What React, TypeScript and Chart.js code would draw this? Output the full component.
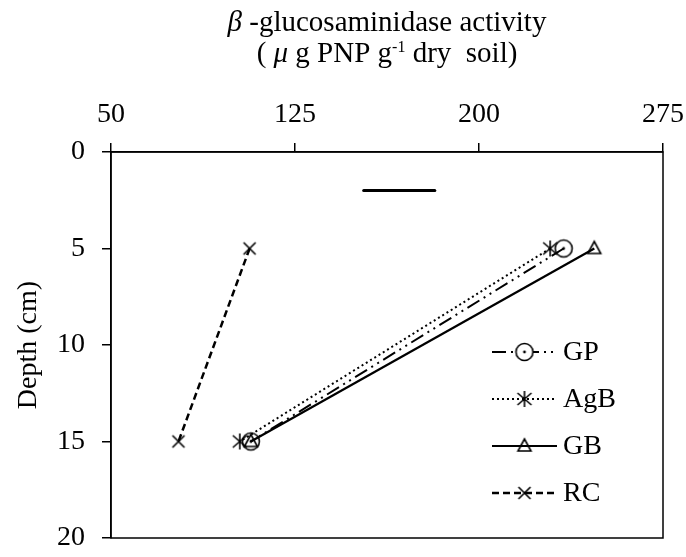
import React, { useEffect, useRef } from 'react';
import { Chart, registerables } from 'chart.js';

Chart.register(...registerables);

// ---- data ----
const seriesNames = ['GP', 'AgB', 'GB', 'RC'];
const depths = [5, 15];
const gpValues = [234.5, 107];
const agbValues = [229, 102.5];
const gbValues = [247, 107];
const rcValues = [106.5, 77.5];
const lsdValues = [153, 182];
const lsdDepths = [2, 2];
const xTicks = [50, 125, 200, 275];
const yTicks = [0, 5, 10, 15, 20];
const yTitle = 'Depth (cm)';

const FONT = '"Liberation Serif", "Times New Roman", serif';
const FS = 28;
const TFS = 29;

function makeMarker(kind: string): HTMLCanvasElement {
  const c = document.createElement('canvas');
  const s = 22;
  c.width = s;
  c.height = s;
  const g = c.getContext('2d')!;
  g.strokeStyle = '#000';
  g.fillStyle = '#000';
  g.lineWidth = 1.6;
  const m = s / 2;
  g.beginPath();
  if (kind === 'circle') {
    g.arc(m, m, 8.5, 0, Math.PI * 2);
    g.stroke();
    g.beginPath();
    g.arc(m, m, 1.4, 0, Math.PI * 2);
    g.fill();
  } else if (kind === 'star') {
    g.moveTo(m, m - 8); g.lineTo(m, m + 8);
    g.moveTo(m - 7, m - 6); g.lineTo(m + 7, m + 6);
    g.moveTo(m - 7, m + 6); g.lineTo(m + 7, m - 6);
    g.stroke();
  } else if (kind === 'triangle') {
    g.moveTo(m, m - 7);
    g.lineTo(m - 6.5, m + 5);
    g.lineTo(m + 6.5, m + 5);
    g.closePath();
    g.stroke();
  } else {
    g.moveTo(m - 6, m - 6); g.lineTo(m + 6, m + 6);
    g.moveTo(m - 6, m + 6); g.lineTo(m + 6, m - 6);
    g.stroke();
  }
  return c;
}

export default function App() {
  const ref = useRef<HTMLCanvasElement | null>(null);

  useEffect(() => {
    if (!ref.current) return;
    const markers = [makeMarker('circle'), makeMarker('star'), makeMarker('triangle'), makeMarker('cross')];
    const values = [gpValues, agbValues, gbValues, rcValues];
    const dashes = [[14, 5, 2, 5, 2, 5], [2, 3], [], [7, 4]];
    const widths = [2, 2, 2.2, 2.5];

    const datasets: any[] = seriesNames.map((name, i) => ({
      label: name,
      data: depths.map((d, j) => ({ x: values[i][j], y: d })),
      showLine: true,
      borderColor: '#000',
      backgroundColor: '#000',
      borderWidth: widths[i],
      borderDash: dashes[i],
      pointStyle: markers[i],
      pointRadius: 8,
      pointHoverRadius: 8,
      fill: false,
    }));
    datasets.push({
      label: 'LSD',
      data: lsdValues.map((v, j) => ({ x: v, y: lsdDepths[j] })),
      showLine: true,
      borderColor: '#000',
      borderWidth: 3,
      borderCapStyle: 'round',
      pointRadius: 0,
      fill: false,
    });

    const framePlugin = {
      id: 'frame',
      afterDatasetsDraw(chart: any) {
        const { ctx, chartArea: a } = chart;
        ctx.save();
        ctx.strokeStyle = '#000';
        ctx.lineWidth = 1.5;
        ctx.strokeRect(a.left, a.top, a.right - a.left, a.bottom - a.top);
        ctx.restore();
      },
    };

    const titlePlugin = {
      id: 'topTitle',
      afterDraw(chart: any) {
        const { ctx, chartArea: a } = chart;
        const cx = (a.left + a.right) / 2;
        ctx.save();
        ctx.fillStyle = '#000';
        ctx.textBaseline = 'alphabetic';
        ctx.textAlign = 'left';
        const normal = `${TFS}px ${FONT}`;
        const italic = `italic ${TFS}px ${FONT}`;
        const sup = `${Math.round(TFS * 0.55)}px ${FONT}`;
        const drawParts = (parts: { t: string; f: string; dy?: number }[], y: number) => {
          let w = 0;
          parts.forEach((p) => { ctx.font = p.f; w += ctx.measureText(p.t).width; });
          let x = cx - w / 2;
          parts.forEach((p) => {
            ctx.font = p.f;
            ctx.fillText(p.t, x, y + (p.dy || 0));
            x += ctx.measureText(p.t).width;
          });
        };
        drawParts([
          { t: 'β', f: italic },
          { t: ' -glucosaminidase activity', f: normal },
        ], 31);
        drawParts([
          { t: '( ', f: normal },
          { t: 'μ', f: italic },
          { t: ' g PNP g', f: normal },
          { t: '-1', f: sup, dy: -10 },
          { t: ' dry  soil)', f: normal },
        ], 62);
        ctx.restore();
      },
    };

    const legendPlugin = {
      id: 'customLegend',
      afterDraw(chart: any) {
        const { ctx, chartArea: a } = chart;
        ctx.save();
        seriesNames.forEach((name, i) => {
          const y = a.top + 200 + i * 47;
          const x0 = a.right - 171;
          const x1 = a.right - 106;
          ctx.strokeStyle = '#000';
          ctx.lineWidth = widths[i];
          ctx.setLineDash(dashes[i]);
          ctx.beginPath();
          ctx.moveTo(x0, y);
          ctx.lineTo(x1, y);
          ctx.stroke();
          ctx.setLineDash([]);
          const mx = (x0 + x1) / 2;
          if (i === 0) {
            ctx.fillStyle = '#fff';
            ctx.beginPath();
            ctx.arc(mx, y, 8.5, 0, Math.PI * 2);
            ctx.fill();
          }
          const img = markers[i];
          ctx.drawImage(img, mx - img.width / 2, y - img.height / 2);
          ctx.fillStyle = '#000';
          ctx.font = `${FS}px ${FONT}`;
          ctx.textAlign = 'left';
          ctx.textBaseline = 'middle';
          ctx.fillText(name, x1 + 6, y + 1);
        });
        ctx.restore();
      },
    };

    const chart = new Chart(ref.current, {
      type: 'scatter',
      data: { datasets },
      options: {
        animation: false,
        responsive: true,
        maintainAspectRatio: false,
        layout: { padding: { left: 0, top: 0, right: 23, bottom: 19 } },
        plugins: { legend: { display: false }, tooltip: { enabled: false }, title: { display: false } },
        scales: {
          x: {
            type: 'linear',
            position: 'top',
            min: 50,
            max: 275,
            afterBuildTicks: (s: any) => { s.ticks = xTicks.map((v) => ({ value: v })); },
            afterFit: (s: any) => {
              s.height = 152;
              s.paddingLeft = 0;
              s.paddingRight = 0;
              s.paddingTop = 0;
              s.paddingBottom = 0;
            },
            ticks: { color: '#000', font: { family: FONT, size: FS }, padding: 12, maxRotation: 0 },
            grid: { drawOnChartArea: false, drawTicks: true, tickLength: 9, color: '#000', lineWidth: 1.5 },
            border: { display: true, color: '#000', width: 1.5 },
            title: { display: false },
          },
          y: {
            type: 'linear',
            position: 'left',
            reverse: true,
            min: 0,
            max: 20,
            afterBuildTicks: (s: any) => { s.ticks = yTicks.map((v) => ({ value: v })); },
            afterFit: (s: any) => {
              s.width = 111;
              s.paddingLeft = 0;
              s.paddingRight = 0;
              s.paddingTop = 0;
              s.paddingBottom = 0;
            },
            ticks: { color: '#000', font: { family: FONT, size: FS }, padding: 17 },
            grid: { drawOnChartArea: false, drawTicks: true, tickLength: 9, color: '#000', lineWidth: 1.5 },
            border: { display: true, color: '#000', width: 1.5 },
            title: { display: true, text: yTitle, color: '#000', font: { family: FONT, size: FS }, padding: { top: 12, bottom: 0 } },
          },
        },
      } as any,
      plugins: [framePlugin, titlePlugin, legendPlugin],
    });
    return () => chart.destroy();
  }, []);

  return (
    <div style={{ position: 'absolute', left: 0, top: 0, width: 686, height: 557 }}>
      <canvas ref={ref} />
    </div>
  );
}
